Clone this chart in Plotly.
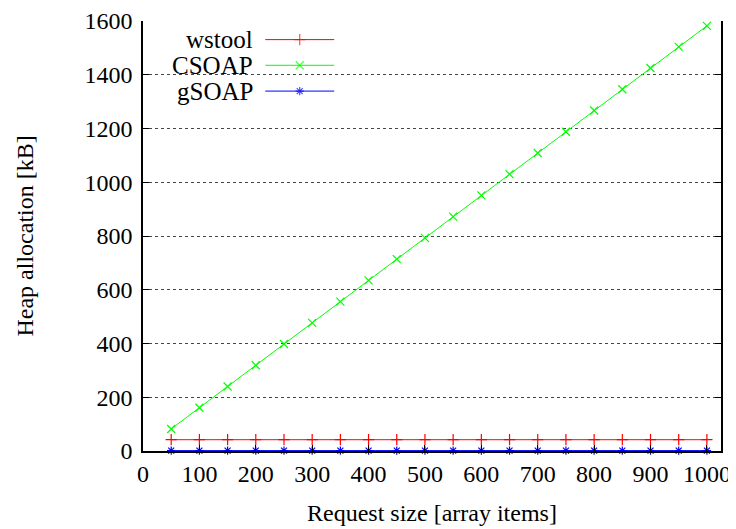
import plotly.graph_objects as go

request_size = [50, 100, 150, 200, 250, 300, 350, 400, 450, 500,
                550, 600, 650, 700, 750, 800, 850, 900, 950, 1000]
wstool = [42] * 20
csoap = [82, 161, 240, 319, 398, 477, 556, 635, 714, 793,
         872, 951, 1030, 1109, 1188, 1267, 1346, 1425, 1504, 1582]
gsoap = [1.5] * 20

series_names = ["wstool", "CSOAP", "gSOAP"]
series_values = [wstool, csoap, gsoap]
colors = ["#ff0000", "#00ff00", "#0000ff"]
symbols = ["cross-thin", "x-thin", "asterisk-open"]
sizes = [8, 8, 7]

FONT = "Liberation Serif, Times New Roman, serif"
FS = 24

fig = go.Figure()
for name, vals, c, s, sz in zip(series_names, series_values, colors, symbols, sizes):
    fig.add_trace(go.Scatter(
        x=request_size, y=vals, mode="lines+markers", name=name,
        line=dict(color=c, width=1),
        marker=dict(symbol=s, size=sz, color=c, line=dict(color=c, width=1.2)),
        showlegend=False, cliponaxis=False,
    ))

# custom gnuplot-style legend (text right-aligned, sample to the right)
leg_rows = [0.9567, 0.897, 0.837]
lx0, lx1 = 0.2115, 0.3308
for name, c, s, sz, yy in zip(series_names, colors, symbols, sizes, leg_rows):
    fig.add_trace(go.Scatter(
        x=[lx0, (lx0 + lx1) / 2, lx1], y=[yy, yy, yy],
        xaxis="x2", yaxis="y2", mode="lines+markers",
        line=dict(color=c, width=1),
        marker=dict(symbol=s, size=[0, sz, 0], color=c, line=dict(color=c, width=1.2)),
        showlegend=False, hoverinfo="skip",
    ))
    fig.add_annotation(x=0.194, y=yy, xref="paper", yref="paper", text=name,
                       showarrow=False, xanchor="right", yanchor="middle",
                       font=dict(family=FONT, size=FS + 1, color="black"))

fig.add_shape(type="rect", xref="paper", yref="paper", x0=0.021, x1=0.353,
              y0=0.80, y1=0.999, fillcolor="white", line=dict(width=0), layer="between")

# axis titles
fig.add_annotation(x=0.5, y=-0.145, xref="paper", yref="paper",
                   text="Request size [array items]", showarrow=False,
                   xanchor="center", yanchor="middle",
                   font=dict(family=FONT, size=FS, color="black"))
fig.add_annotation(x=-0.204, y=0.499, xref="paper", yref="paper",
                   text="Heap allocation [kB]", showarrow=False, textangle=-90,
                   xanchor="center", yanchor="middle",
                   font=dict(family=FONT, size=FS, color="black"))

# page body has an 8px margin: size the figure so the plot lands where the reference has it
fig.update_layout(
    width=728, height=521,
    margin=dict(l=135, r=15, t=13, b=78, autoexpand=False),
    paper_bgcolor="white", plot_bgcolor="white",
    font=dict(family=FONT, size=FS, color="black"),
    xaxis=dict(
        range=[0, 1025], tickvals=[0, 100, 200, 300, 400, 500, 600, 700, 800, 900, 1000],
        ticks="inside", ticklen=6, tickcolor="black", tickwidth=1,
        showline=True, linecolor="black", linewidth=1.5, mirror=False,
        showgrid=False, zeroline=False, automargin=False,
        tickfont=dict(family=FONT, size=FS),
    ),
    yaxis=dict(
        range=[0, 1600], dtick=200,
        ticks="inside", ticklen=6, tickcolor="black", tickwidth=1,
        showline=True, linecolor="black", linewidth=1.5, mirror="ticks",
        showgrid=True, gridcolor="#444", gridwidth=1, griddash="dot",
        zeroline=False, automargin=False, ticklabelstandoff=4,
        tickfont=dict(family=FONT, size=FS),
    ),
    xaxis2=dict(overlaying="x", range=[0, 1], visible=False, anchor="y2"),
    yaxis2=dict(overlaying="y", range=[0, 1], visible=False, anchor="x2"),
)

fig.write_html("out.html")
